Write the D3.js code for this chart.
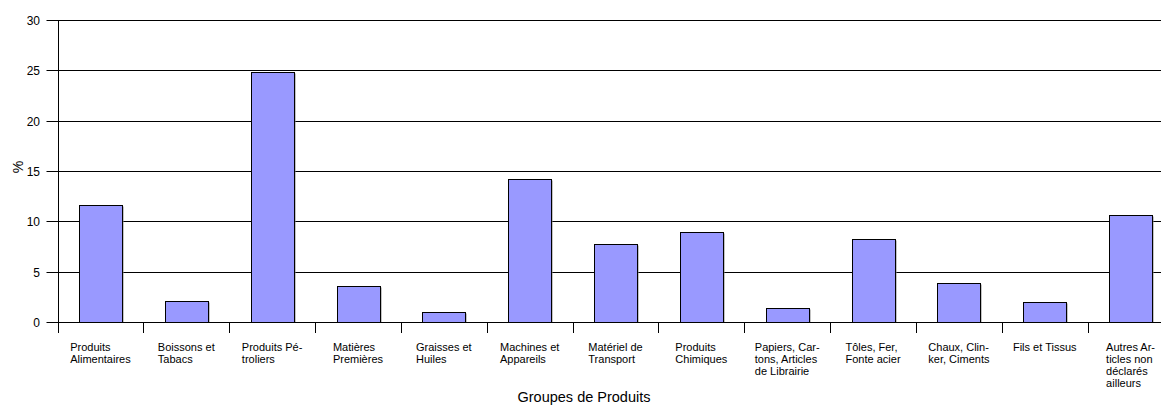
<!DOCTYPE html>
<html>
<head>
<meta charset="utf-8">
<script src="https://cdn.jsdelivr.net/npm/d3@7"></script>
<style>
  html, body { margin: 0; padding: 0; background: #fff; }
  svg { display: block; }
  text { font-family: "Liberation Sans", Arial, sans-serif; fill: #000; }
</style>
</head>
<body>
<svg id="chart" width="1161" height="406"></svg>
<script>
const categories = [
  "Produits Alimentaires", "Boissons et Tabacs", "Produits Pétroliers",
  "Matières Premières", "Graisses et Huiles", "Machines et Appareils",
  "Matériel de Transport", "Produits Chimiques", "Papiers, Cartons, Articles de Librairie",
  "Tôles, Fer, Fonte acier", "Chaux, Clinker, Ciments", "Fils et Tissus",
  "Autres Articles non déclarés ailleurs"
];
const labelLines = [
  ["Produits", "Alimentaires"],
  ["Boissons et", "Tabacs"],
  ["Produits Pé-", "troliers"],
  ["Matières", "Premières"],
  ["Graisses et", "Huiles"],
  ["Machines et", "Appareils"],
  ["Matériel de", "Transport"],
  ["Produits", "Chimiques"],
  ["Papiers, Car-", "tons, Articles", "de Librairie"],
  ["Tôles, Fer,", "Fonte acier"],
  ["Chaux, Clin-", "ker, Ciments"],
  ["Fils et Tissus"],
  ["Autres Ar-", "ticles non", "déclarés", "ailleurs"]
];
const values = [11.6, 2.1, 24.8, 3.6, 1.0, 14.2, 7.7, 8.9, 1.4, 8.2, 3.9, 2.0, 10.6];
const yTicks = [0, 5, 10, 15, 20, 25, 30];
const yTitle = "%";
const xTitle = "Groupes de Produits";

(function () {
const svg = d3.select("#chart");
const pLeft = 57.5, pRight = 1173.5, pTop = 20, pBottom = 322;

const x0 = d3.scaleBand().domain(categories).range([pLeft, pRight]).padding(0);
const x = d3.scaleBand().domain(categories).range([pLeft, pRight])
  .paddingInner(0.5).paddingOuter(0.25);
const y = d3.scaleLinear().domain([0, 30]).range([pBottom, pTop]);

// gridlines
svg.append("g").selectAll("line").data(yTicks).join("line")
  .attr("x1", pLeft - 11).attr("x2", 1161)
  .attr("y1", d => Math.round(y(d)) + 0.5).attr("y2", d => Math.round(y(d)) + 0.5)
  .attr("stroke", "#000").attr("stroke-width", 1);

// y tick labels
svg.append("g").selectAll("text").data(yTicks).join("text")
  .attr("x", 40).attr("y", d => Math.round(y(d)) + 0.5)
  .attr("dy", "0.35em").attr("text-anchor", "end")
  .style("font-size", "12px").text(d => d);

// bars shadow
svg.append("g").selectAll("rect").data(values).join("rect")
  .attr("x", (d, i) => Math.round(x(categories[i])) + 1.5)
  .attr("y", d => Math.round(y(d)) + 1.5)
  .attr("width", Math.round(x.bandwidth()))
  .attr("height", d => Math.round(y(0)) - Math.round(y(d)) - 1)
  .attr("fill", "#888");

// bars
svg.append("g").selectAll("rect").data(values).join("rect")
  .attr("x", (d, i) => Math.round(x(categories[i])) + 0.5)
  .attr("y", d => Math.round(y(d)) + 0.5)
  .attr("width", Math.round(x.bandwidth()))
  .attr("height", d => Math.round(y(0)) - Math.round(y(d)))
  .attr("fill", "#9999FF").attr("stroke", "#000").attr("stroke-width", 1);

// y axis line
svg.append("line")
  .attr("x1", Math.round(pLeft) + 0.5).attr("x2", Math.round(pLeft) + 0.5)
  .attr("y1", pTop).attr("y2", pBottom + 11)
  .attr("stroke", "#000");

// x axis line
svg.append("line")
  .attr("x1", pLeft).attr("x2", 1161)
  .attr("y1", Math.round(y(0)) + 0.5).attr("y2", Math.round(y(0)) + 0.5)
  .attr("stroke", "#000");

// x ticks at band boundaries
const bounds = categories.map(c => x0(c)).concat([pRight]);
svg.append("g").selectAll("line").data(bounds).join("line")
  .attr("x1", d => Math.round(d) + 0.5).attr("x2", d => Math.round(d) + 0.5)
  .attr("y1", Math.round(y(0))).attr("y2", Math.round(y(0)) + 11)
  .attr("stroke", "#000");

// category labels (block centered in band, lines left aligned)
const lg = svg.append("g");
labelLines.forEach((lines, i) => {
  const g = lg.append("g");
  const t = g.append("text").style("font-size", "11px");
  lines.forEach((ln, j) => {
    t.append("tspan").attr("x", 0).attr("y", 350.5 + j * 12).text(ln);
  });
  let w = 0;
  t.selectAll("tspan").each(function() { w = Math.max(w, this.getComputedTextLength()); });
  const cx = x0(categories[i]) + x0.bandwidth() / 2;
  g.attr("transform", `translate(${cx - w / 2},0)`);
});

// axis titles
svg.append("text")
  .attr("transform", "translate(23,167) rotate(-90)")
  .attr("text-anchor", "middle").style("font-size", "14px").text(yTitle);
svg.append("text")
  .attr("x", 584).attr("y", 402)
  .attr("text-anchor", "middle").style("font-size", "14.5px").text(xTitle);
})();
</script>
</body>
</html>
